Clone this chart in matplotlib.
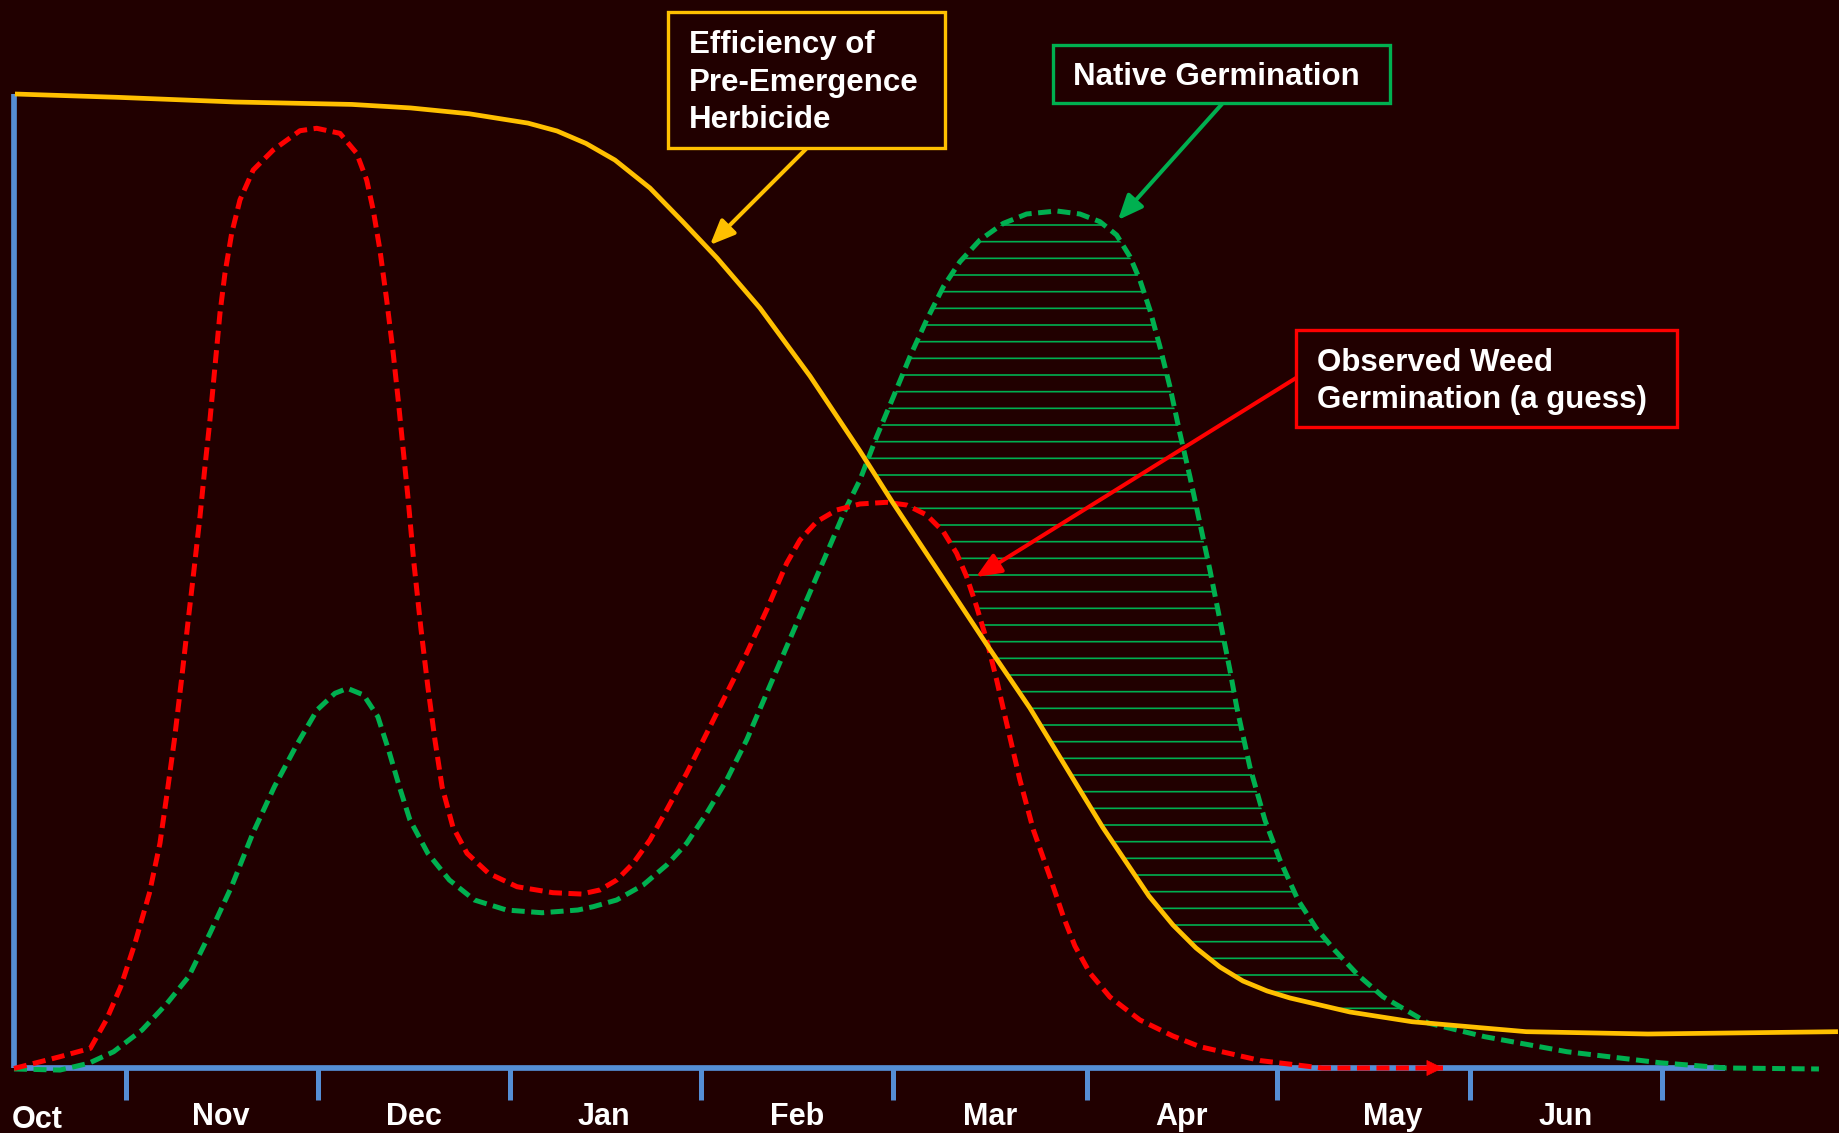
import numpy as np
import matplotlib
matplotlib.use('Agg')
import matplotlib.pyplot as plt
from matplotlib.patches import Rectangle, FancyArrowPatch

plt.rcParams['font.family'] = ['Liberation Sans', 'DejaVu Sans']
plt.rcParams['hatch.linewidth'] = 1.2

W, H = 1839, 1133
BG = '#210000'
YEL = '#FFC000'
GRN = '#00B050'
RED = '#FF0000'
BLU = '#558ED5'

# ---- data (x: month units from Oct origin, y: percent of max) ----
months = ['Oct', 'Nov', 'Dec', 'Jan', 'Feb', 'Mar', 'Apr', 'May', 'Jun']
month_label_x = [0.12, 1.077, 2.08, 3.068, 4.072, 5.075, 6.07, 7.171, 8.07]
month_label_y = [-6.16, -5.85, -5.85, -5.85, -5.85, -5.85, -5.85, -5.85, -5.85]
tick_x = [0.58, 1.58, 2.58, 3.57, 4.57, 5.58, 6.57, 7.57, 8.57]
axis_x_end = 8.898
axis_y_top = 100.0

herb_x = [0.005, 0.537, 1.147, 1.757, 2.062, 2.367, 2.673, 2.824, 2.975, 3.125,
          3.307, 3.479, 3.656, 3.879, 4.139, 4.399, 4.571, 4.816, 5.060, 5.283,
          5.543, 5.660, 5.783, 5.902, 6.027, 6.147, 6.271, 6.391, 6.516, 6.635,
          6.947, 7.270, 7.863, 8.497, 9.485]
herb_y = [100.0, 99.66, 99.18, 98.93, 98.57, 97.97, 97.01, 96.20, 94.92, 93.22,
          90.35, 86.86, 83.16, 78.03, 71.05, 63.35, 58.01, 50.72, 43.43, 36.96,
          28.54, 24.76, 21.15, 17.66, 14.68, 12.32, 10.37, 8.93, 7.91, 7.19,
          5.75, 4.75, 3.73, 3.49, 3.73]

weed_x = [0.0, 0.239, 0.397, 0.480, 0.555, 0.629, 0.704, 0.759, 0.796, 0.834,
          0.871, 0.908, 0.932, 0.967, 0.993, 1.019, 1.045, 1.071, 1.097, 1.132,
          1.175, 1.244, 1.348, 1.487, 1.574, 1.695, 1.782, 1.834, 1.868, 1.903,
          1.938, 1.972, 1.998, 2.024, 2.050, 2.078, 2.115, 2.152, 2.189, 2.226,
          2.282, 2.356, 2.468, 2.616, 2.802, 2.951, 3.047, 3.134, 3.220, 3.307,
          3.394, 3.498, 3.602, 3.706, 3.810, 3.914, 4.018, 4.087, 4.174, 4.278,
          4.399, 4.538, 4.642, 4.746, 4.833, 4.902, 4.954, 5.006, 5.058, 5.110,
          5.162, 5.231, 5.301, 5.387, 5.457, 5.517, 5.595, 5.699, 5.855, 6.026,
          6.167, 6.485, 6.802, 7.431]
weed_y = [-0.05, 1.16, 2.02, 4.93, 8.35, 12.80, 17.94, 23.07, 28.20, 33.68,
          39.84, 46.34, 50.44, 56.60, 61.74, 66.53, 72.00, 77.48, 81.59, 85.70,
          89.12, 92.20, 94.25, 96.23, 96.48, 95.96, 93.91, 91.17, 88.09, 83.98,
          78.85, 73.38, 68.58, 63.45, 58.32, 52.16, 45.31, 39.15, 33.68, 28.88,
          24.77, 22.04, 19.99, 18.61, 18.00, 17.86, 18.28, 19.30, 21.02, 23.41,
          26.49, 30.26, 34.36, 38.47, 42.58, 47.02, 51.82, 54.21, 56.09, 57.29,
          57.91, 58.08, 57.80, 56.78, 55.06, 52.84, 50.44, 47.36, 43.94, 39.84,
          35.39, 29.57, 24.44, 19.64, 15.53, 12.53, 9.75, 7.29, 4.93, 3.29,
          2.19, 0.75, 0.0, 0.0]

native_x = [0.0, 0.239, 0.388, 0.518, 0.666, 0.796, 0.908, 1.019, 1.131, 1.242,
            1.354, 1.465, 1.576, 1.669, 1.734, 1.818, 1.892, 1.948, 2.004, 2.059,
            2.152, 2.264, 2.394, 2.561, 2.746, 2.932, 3.012, 3.134, 3.272, 3.394,
            3.498, 3.602, 3.706, 3.810, 3.914, 4.018, 4.122, 4.226, 4.330, 4.399,
            4.486, 4.573, 4.659, 4.746, 4.833, 4.919, 5.023, 5.145, 5.266, 5.422,
            5.543, 5.647, 5.734, 5.803, 5.855, 5.907, 5.959, 6.011, 6.063, 6.115,
            6.167, 6.219, 6.271, 6.323, 6.358, 6.427, 6.505, 6.583, 6.677, 6.771,
            6.867, 6.989, 7.119, 7.353, 7.649, 8.076, 8.559, 8.903, 9.386]
native_y = [-0.10, -0.21, 0.48, 1.67, 3.90, 6.64, 9.37, 13.83, 18.61, 24.10,
            28.88, 32.99, 36.76, 38.47, 38.98, 38.30, 36.07, 32.65, 28.88, 25.46,
            22.04, 19.30, 17.25, 16.22, 15.94, 16.22, 16.56, 17.25, 18.79, 20.84,
            23.07, 26.15, 29.57, 33.68, 38.47, 43.25, 48.05, 52.84, 57.63, 60.37,
            64.82, 68.92, 73.03, 76.80, 80.22, 82.78, 85.01, 86.72, 87.68, 87.99,
            87.68, 86.89, 85.52, 83.30, 80.90, 77.82, 74.06, 69.95, 65.16, 60.71,
            55.92, 51.13, 46.00, 40.86, 37.09, 30.90, 25.46, 21.36, 17.25, 14.37,
            12.11, 9.55, 7.32, 4.62, 3.21, 1.67, 0.54, 0.0, -0.10]

# ---- figure ----
fig = plt.figure(figsize=(W / 100, H / 100), dpi=100, facecolor=BG)
ax = fig.add_axes([0, 0, 1, 1], facecolor=BG)
ax.set_xlim(-14 / 192.3, (W - 14) / 192.3)
ax.set_ylim((1068 - H) / 9.74, 1068 / 9.74)
ax.axis('off')

# axes lines and ticks
ax.plot([0, 0], [0, axis_y_top], color=BLU, lw=4.1, solid_capstyle='butt', zorder=2)
ax.plot([0, axis_x_end], [0, 0], color=BLU, lw=4.1, solid_capstyle='butt', zorder=2)
for tx in tick_x:
    ax.plot([tx, tx], [0, -3.3], color=BLU, lw=3.6, solid_capstyle='butt', zorder=2)
for lab, lx, ly in zip(months, month_label_x, month_label_y):
    ax.text(lx, ly, lab, color='white', fontsize=22, fontweight='bold',
            ha='center', va='baseline')

# hatched area between native germination and the higher of the other two
xg = np.linspace(4.3, 7.5, 2000)
g = np.interp(xg, native_x, native_y)
low = np.maximum(np.interp(xg, weed_x, weed_y), np.interp(xg, herb_x, herb_y))
ax.fill_between(xg, low, g, where=g > low, facecolor='none', edgecolor=GRN,
                hatch='-', linewidth=0, zorder=3)

dash = (2.6, 1.3)
ax.plot(native_x, native_y, color=GRN, lw=3.6, dashes=dash, zorder=4)
ax.plot(weed_x, weed_y, color=RED, lw=3.6, dashes=dash, zorder=5)
ax.plot(herb_x, herb_y, color=YEL, lw=3.4, zorder=6, solid_capstyle='butt',
        solid_joinstyle='round')

# arrow head at end of weed curve
ax.add_patch(FancyArrowPatch((weed_x[-1] - 0.08, weed_y[-1]), (weed_x[-1], weed_y[-1]),
                             arrowstyle='-|>,head_length=0.55,head_width=0.27',
                             mutation_scale=20, color=RED, lw=0.5, shrinkA=0, shrinkB=0,
                             zorder=7))

# ---- callout boxes (figure pixel layout) ----
def fp(x, y):
    return (x / W, 1 - y / H)

def box(x0, y0, x1, y1, color):
    fig.add_artist(Rectangle(fp(x0, y1), (x1 - x0) / W, (y1 - y0) / H,
                             transform=fig.transFigure, facecolor=BG,
                             edgecolor=color, lw=2.4, zorder=10))

def line_text(x, y, s):
    fig.text(*fp(x, y), s, color='white', fontsize=22.5, fontweight='bold',
             ha='left', va='baseline', zorder=11)

def arrow(p0, p1, color):
    fig.add_artist(FancyArrowPatch(fp(*p0), fp(*p1), transform=fig.transFigure,
                                   arrowstyle='-|>,head_length=0.75,head_width=0.32',
                                   mutation_scale=20, color=color, lw=2.9,
                                   shrinkA=0, shrinkB=0, zorder=9))

box(668, 12, 945, 148, YEL)
line_text(689, 53, 'Efficiency of')
line_text(689, 91, 'Pre-Emergence')
line_text(689, 128, 'Herbicide')
arrow((806, 149), (710, 245), YEL)

box(1053, 45, 1390, 103, GRN)
line_text(1073, 85, 'Native Germination')
arrow((1222, 104), (1118, 220), GRN)

box(1296, 330, 1677, 427, RED)
line_text(1317, 371, 'Observed Weed')
line_text(1317, 408, 'Germination (a guess)')
arrow((1296, 378), (976, 577), RED)

fig.savefig('out.png', dpi=100, facecolor=BG)
